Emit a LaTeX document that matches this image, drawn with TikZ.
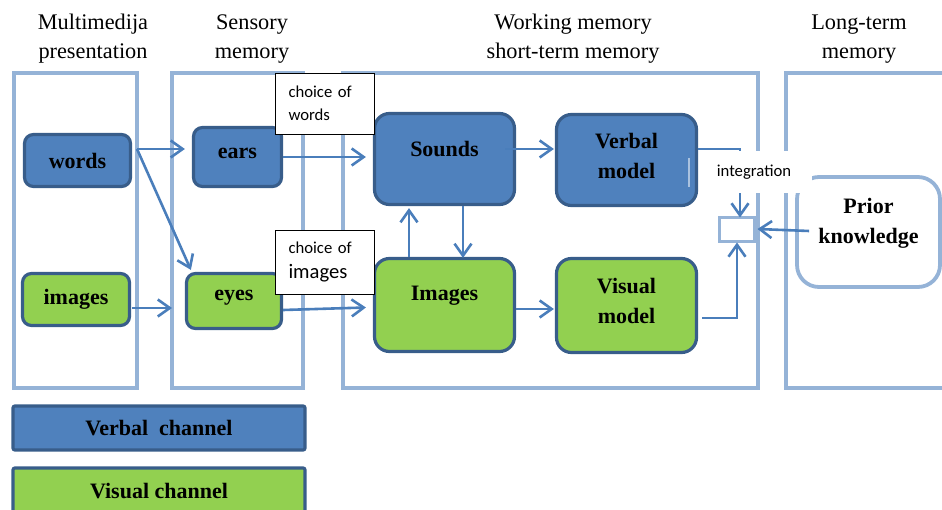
\documentclass[tikz,border=0pt]{standalone}
\usepackage{fontspec}
\setmainfont{Liberation Serif}
\newfontfamily\calibri{Carlito}
\usetikzlibrary{arrows.meta,calc}
\definecolor{blu}{HTML}{4F81BD}
\definecolor{bdr}{HTML}{385D8A}
\definecolor{grn}{HTML}{92D050}
\definecolor{colL}{HTML}{95B3D7}
\definecolor{arrc}{HTML}{4A7EBB}
\begin{document}
\begin{tikzpicture}[x=1pt,y=-1pt,
  colline/.style={draw=colL,line width=3.8pt},
  hdr/.style={align=center,inner sep=0pt,font=\fontsize{22.3}{29}\selectfont},
  lbl/.style={align=center,inner sep=0pt,font=\bfseries\fontsize{22}{30}\selectfont},
  bbox/.style={draw=bdr,line width=3.2pt,rounded corners=9pt,fill=blu,inner sep=0pt,font=\bfseries\fontsize{22}{30}\selectfont},
  gbox/.style={bbox,fill=grn},
  choicebox/.style={draw=black,line width=0.8pt,fill=white,align=left,text width=72pt,inner xsep=13.5pt,inner ysep=0pt},
  arr/.style={draw=arrc,line width=2.6pt,-{Straight Barb[length=12pt,width=17pt]}},
  ln/.style={draw=arrc,line width=2.6pt}
]
\clip (0,0) rectangle (942,510);
% headers
\node[hdr] (h1) at (93,39) {Multimedija\\presentation};
\node[hdr] (h2) at (252,39) {Sensory\\memory};
\node[hdr] (h3) at (573,39) {Working memory\\short-term memory};
\node[hdr] (h4) at (859,39) {Long-term\\memory};
% columns
\draw[colline] (14,73) rectangle (137,388);
\draw[colline] (172,73) rectangle (303,388);
\draw[colline] (343,73) rectangle (758,388);
\draw[colline] (786,73) rectangle (960,388);
% prior knowledge
\node[draw=colL,line width=3.8pt,rounded corners=22pt,fill=white,minimum width=143pt,minimum height=110pt,
  label={[lbl,yshift=9pt,name=tprior]center:Prior\\knowledge}] (prior) at (868.5,232) {};
% nodes
\node[bbox,minimum width=106pt,minimum height=52pt] (words) at (77.5,160.5) {words};
\node[gbox,minimum width=107pt,minimum height=52pt] (images) at (76,299.5) {images};
\node[bbox,minimum width=88pt,minimum height=59pt,label={[lbl,yshift=4pt,name=tears]center:ears}] (ears) at (237.5,157) {};
\node[gbox,minimum width=95pt,minimum height=55pt,label={[lbl,yshift=3pt,name=teyes]center:eyes}] (eyes) at (234,301) {};
\node[bbox,rounded corners=15pt,minimum width=140pt,minimum height=91pt,label={[lbl,yshift=10pt,name=tsounds]center:Sounds}] (sounds) at (444.5,159) {};
\node[gbox,rounded corners=15pt,minimum width=140pt,minimum height=93pt,label={[lbl,yshift=9pt,name=timages]center:Images}] (imagesw) at (444.5,305) {};
\node[bbox,rounded corners=15pt,minimum width=140pt,minimum height=91pt,label={[lbl,yshift=4pt,name=tverbal]center:Verbal\\model}] (verbal) at (626.5,160) {};
\node[gbox,rounded corners=15pt,minimum width=140pt,minimum height=94pt,label={[lbl,yshift=5pt,name=tvisual]center:Visual\\model}] (visual) at (626.5,305.5) {};
\draw[draw=colL!80,line width=2pt] (689,158) -- (689,187);
% choice boxes
\node[choicebox,minimum height=61pt,font=\calibri\fontsize{16.7}{23}\selectfont] (cw) at (324.5,103.5) {choice of\\words};
\node[choicebox,minimum height=64pt,font=\calibri\fontsize{16.7}{25}\selectfont] (ci) at (324.5,262) {choice of\\{\fontsize{20.6}{25}\selectfont images}};
% integration square
\node[draw=colL,line width=3pt,fill=white,minimum width=35pt,minimum height=24pt,inner sep=0pt] (sq) at (736.5,230) {};
% connectors
\coordinate (wo) at (137,149);
\coordinate (c2in) at (172,308);
\draw[arr] (wo) -- ([xshift=-7pt]ears.west |- wo);
\draw[arr] (wo) -- ([xshift=6pt,yshift=2pt]eyes.north west);
\draw[arr] ([xshift=1pt]images.east |- c2in) -- (c2in);
\draw[arr] (ears.east) -- ([xshift=-7pt]sounds.west |- ears.east);
\draw[arr] ([yshift=-9pt]eyes.east) -- ([xshift=-7pt,yshift=-2.5pt]imagesw.west);
\draw[arr] (imagesw.north -| 409,0) -- ([yshift=-2pt]sounds.south -| 409,0);
\draw[arr] (sounds.south -| 463,0) -- ([yshift=-1pt]imagesw.north -| 463,0);
\draw[arr] ([xshift=-11pt,yshift=10pt]sounds.east) -- ([xshift=-1pt,yshift=11pt]verbal.west);
\draw[arr] ([yshift=-4pt]imagesw.east) -- ([xshift=-1pt,yshift=-3.5pt]visual.west);
\draw[arr] ([yshift=11pt]verbal.east) -- (740,149) -- ([xshift=3.5pt,yshift=-1pt]sq.north);
\draw[arr] ([xshift=4pt,yshift=-12.5pt]visual.east) -- (737,318) -- ([xshift=0.5pt,yshift=1pt]sq.south);
\draw[arr] ([xshift=14pt,yshift=1pt]prior.west) -- ([xshift=2pt,yshift=1pt]sq.east);
% integration label
\node[fill=white,inner sep=0pt,minimum width=100pt,minimum height=42pt,
  label={[inner sep=0pt,xshift=-8pt,name=tinteg,font=\calibri\fontsize{16.7}{20}\selectfont]center:integration}] (integ) at (762,172) {};
% legend
\node[draw=bdr,line width=3.2pt,fill=blu,rounded corners=2pt,minimum width=292pt,minimum height=44pt,font=\bfseries\fontsize{22}{28}\selectfont] (lv) at (159,428) {Verbal\ \ channel};
\node[draw=bdr,line width=3.2pt,fill=grn,rounded corners=2pt,minimum width=292pt,minimum height=60pt,
  label={[lbl,yshift=7pt,name=tlg]center:Visual channel}] (lg) at (159,498) {};
\end{tikzpicture}
\end{document}
